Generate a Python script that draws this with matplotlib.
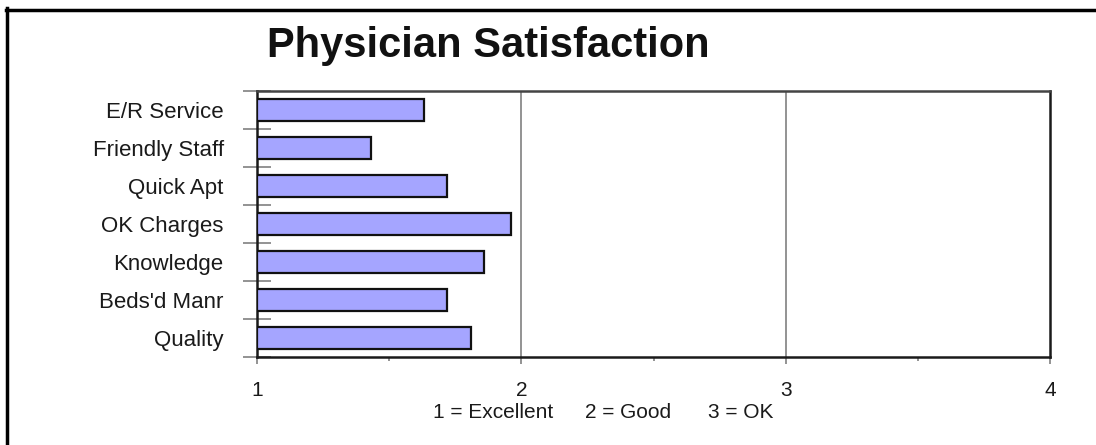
import matplotlib
matplotlib.use("Agg")
import matplotlib.pyplot as plt
from matplotlib.lines import Line2D
from matplotlib.ticker import FixedLocator
import numpy as np

plt.rcParams['font.family'] = ['Liberation Sans', 'DejaVu Sans']

categories = ["E/R Service", "Friendly Staff", "Quick Apt", "OK Charges",
              "Knowledge", "Beds'd Manr", "Quality"]
scores = [1.63, 1.43, 1.72, 1.96, 1.86, 1.72, 1.81]
xticks = [1, 2, 3, 4]
scale_notes = ["1 = Excellent", "2 = Good", "3 = OK"]
title = "Physician Satisfaction"

W, H = 1096, 445
fig = plt.figure(figsize=(W / 100, H / 100), dpi=100)
fig.patch.set_facecolor("white")

ax = fig.add_axes([257 / W, 1 - 357 / H, (1050 - 257) / W, (357 - 91) / H])

y = np.arange(len(categories))
base = 1.0
ax.barh(y, [s - base for s in scores], left=base, height=0.56,
        color="#A5A5FF", edgecolor="#111111", linewidth=1.6, zorder=3)

ax.set_xlim(1, 4)
ax.set_ylim(len(categories) - 0.5, -0.5)

ax.xaxis.set_major_locator(FixedLocator(xticks))
ax.xaxis.set_minor_locator(FixedLocator([1.5, 2.5, 3.5]))
ax.set_xticklabels([str(t) for t in xticks])
for xv in xticks[1:-1]:
    ax.axvline(xv, color="#808080", linewidth=1.2, zorder=1)

ax.tick_params(axis="x", which="major", direction="out", length=5,
               width=1.2, color="#808080", labelsize=15, pad=12,
               labelcolor="#1a1a1a")
ax.tick_params(axis="x", which="minor", direction="out", length=3,
               width=1.2, color="#808080")

ax.set_yticks(y)
ax.set_yticklabels(categories)
ax.yaxis.set_minor_locator(FixedLocator(np.arange(-0.5, len(categories), 1.0)))
ax.tick_params(axis="y", which="major", length=0, labelsize=16, pad=24,
               labelcolor="#1a1a1a")
ax.tick_params(axis="y", which="minor", direction="inout", length=20,
               width=1.2, color="#808080")

for side in ["left", "bottom", "right", "top"]:
    ax.spines[side].set_color("#1a1a1a")
    ax.spines[side].set_linewidth(1.8)
ax.spines["top"].set_color("#444444")

fig.text(488 / W, 1 - 57 / H, title, ha="center", va="baseline",
         fontsize=30, fontweight="bold", color="#111111")

note_x = [493, 628, 741]
for txt, xpx in zip(scale_notes, note_x):
    fig.text(xpx / W, 1 - 413 / H, txt, ha="center", va="center",
             fontsize=15, color="#1a1a1a")

fig.add_artist(Line2D([6 / W, 1.0], [1 - 9.5 / H, 1 - 9.5 / H],
                      color="black", linewidth=2.5, transform=fig.transFigure))
fig.add_artist(Line2D([6.5 / W, 6.5 / W], [0, 1 - 8 / H],
                      color="black", linewidth=2.5, transform=fig.transFigure))

fig.savefig("out.png", dpi=100, facecolor="white")
